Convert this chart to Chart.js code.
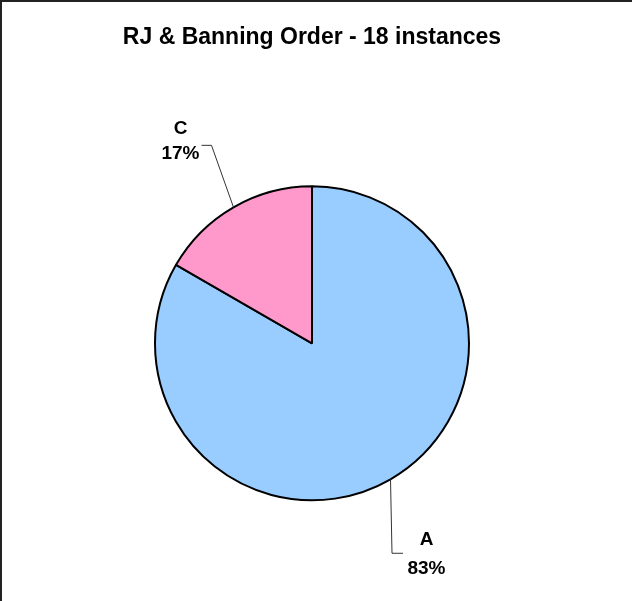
<!DOCTYPE html>
<html>
<head>
<meta charset="utf-8">
<script src="https://cdn.jsdelivr.net/npm/chart.js@4"></script>
<style>
  body { margin: 0; background: #fff; }
  #wrap { position: relative; width: 632px; height: 601px; }
</style>
</head>
<body>
<div id="wrap"><canvas id="pie-chart" width="632" height="601"></canvas></div>
<script>
const titleText = 'RJ & Banning Order - 18 instances'
const categories = ['A', 'C']
const counts = [15, 3]
const sliceColors = ['#99CCFF', '#FF99CC']

// where each label sits relative to the slice's edge point
const labelSpots = [
  { dx: 36, line1: 66, line2: 95, elbow: [1.5, 74], end: [12.5, 74] },
  { dx: -53, line1: -73, line2: -48, elbow: [-22, -62], end: [-32, -62] }
]

const total = counts.reduce((a, b) => a + b, 0)

const pieLabels = {
  id: 'pieLabels',
  afterDatasetsDraw(chart) {
    const ctx = chart.ctx
    const meta = chart.getDatasetMeta(0)
    ctx.save()
    meta.data.forEach((arc, i) => {
      const p = arc.getProps(['x', 'y', 'startAngle', 'endAngle', 'outerRadius'], true)
      const mid = (p.startAngle + p.endAngle) / 2
      const ex = p.x + Math.cos(mid) * p.outerRadius
      const ey = p.y + Math.sin(mid) * p.outerRadius
      const s = labelSpots[i]
      // leader line
      ctx.strokeStyle = '#333'
      ctx.lineWidth = 1
      ctx.beginPath()
      ctx.moveTo(ex, ey)
      ctx.lineTo(ex + s.elbow[0], ey + s.elbow[1])
      ctx.lineTo(ex + s.end[0], ey + s.end[1])
      ctx.stroke()
      // text
      ctx.fillStyle = '#000'
      ctx.font = 'bold 19px "Liberation Sans", Arial, sans-serif'
      ctx.textAlign = 'center'
      ctx.textBaseline = 'alphabetic'
      const pct = Math.round(counts[i] / total * 100) + '%'
      ctx.fillText(categories[i], ex + s.dx, ey + s.line1)
      ctx.fillText(pct, ex + s.dx, ey + s.line2)
    })
    ctx.restore()
  }
}

const frame = {
  id: 'frame',
  afterDraw(chart) {
    const ctx = chart.ctx
    ctx.save()
    ctx.strokeStyle = '#222'
    ctx.lineWidth = 2
    ctx.beginPath()
    ctx.moveTo(1, chart.height)
    ctx.lineTo(1, 1)
    ctx.lineTo(chart.width, 1)
    ctx.stroke()
    ctx.restore()
  }
}

var CHART = document.getElementById('pie-chart')
let myChart = new Chart(CHART, {
  type: 'pie',
  data: {
    labels: categories,
    datasets: [
      {
        data: counts,
        backgroundColor: sliceColors,
        borderColor: '#000',
        borderWidth: 2
      }
    ]
  },
  options: {
    responsive: false,
    animation: false,
    radius: 157,
    layout: { padding: { top: 0, left: 0, right: 8, bottom: 0 } },
    plugins: {
      legend: { display: false },
      tooltip: { enabled: false },
      title: {
        display: true,
        text: titleText,
        color: '#000',
        font: { family: '"Liberation Sans", Arial, sans-serif', size: 23, weight: 'bold' },
        padding: { top: 24, bottom: 34 }
      }
    }
  },
  plugins: [pieLabels, frame]
})
</script>
</body>
</html>
